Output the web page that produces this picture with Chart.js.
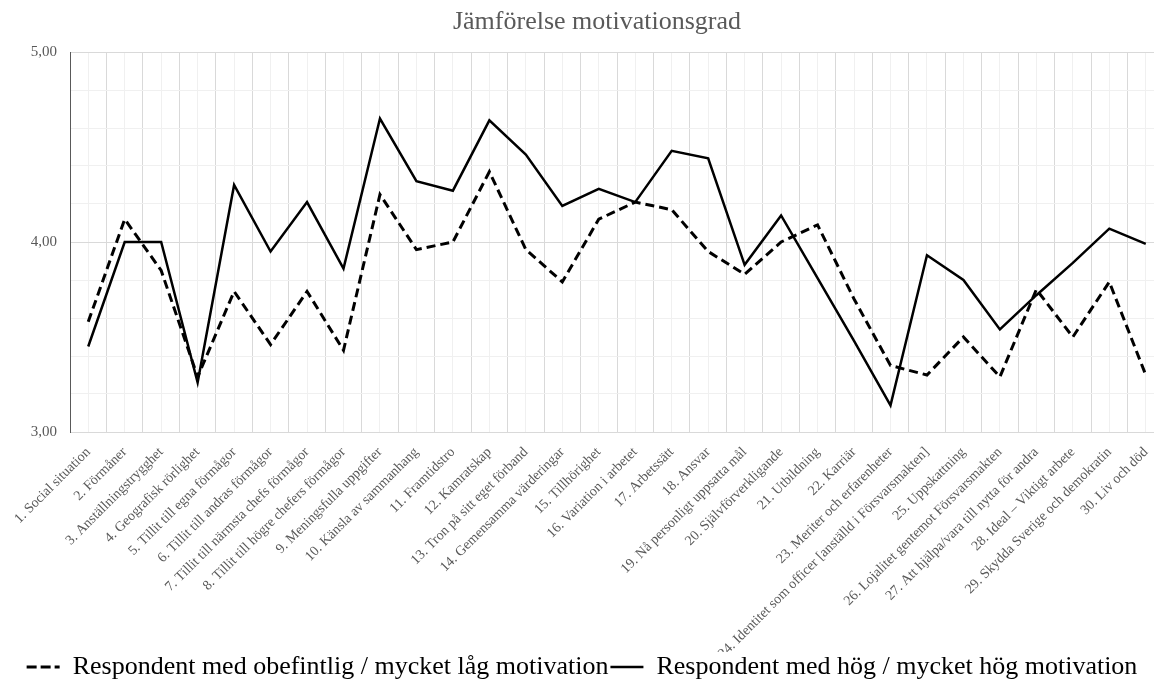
<!DOCTYPE html>
<html>
<head>
<meta charset="utf-8">
<script src="https://cdn.jsdelivr.net/npm/chart.js@4.4.1/dist/chart.umd.min.js"></script>
<style>
  html, body { margin: 0; padding: 0; overflow: hidden; background: #ffffff; }
  canvas { display: block; }
</style>
</head>
<body>
<canvas id="chart" width="1194" height="690"></canvas>
<script>
// Motivationsfaktorer (kategorier på x-axeln)
const categories = [
  '1. Social situation',
  '2. Förmåner',
  '3. Anställningstrygghet',
  '4. Geografisk rörlighet',
  '5. Tillit till egna förmågor',
  '6. Tillit till andras förmågor',
  '7. Tillit till närmsta chefs förmågor',
  '8. Tillit till högre chefers förmågor',
  '9. Meningsfulla uppgifter',
  '10. Känsla av sammanhang',
  '11. Framtidstro',
  '12. Kamratskap',
  '13. Tron på sitt eget förband',
  '14. Gemensamma värderingar',
  '15. Tillhörighet',
  '16. Variation i arbetet',
  '17. Arbetssätt',
  '18. Ansvar',
  '19. Nå personligt uppsatta mål',
  '20. Självförverkligande',
  '21. Utbildning',
  '22. Karriär',
  '23. Meriter och erfarenheter',
  '24. Identitet som officer [anställd i Försvarsmakten]',
  '25. Uppskattning',
  '26. Lojalitet gentemot Försvarsmakten',
  '27. Att hjälpa/vara till nytta för andra',
  '28. Ideal – Viktigt arbete',
  '29. Skydda Sverige och demokratin',
  '30. Liv och död'
];

// Medelvärden per grupp
const lowMotivation = [
  3.58, 4.12, 3.85, 3.29, 3.74, 3.46, 3.74, 3.43, 4.25, 3.96,
  4.00, 4.37, 3.96, 3.79, 4.12, 4.21, 4.17, 3.95, 3.83, 4.00,
  4.09, 3.70, 3.35, 3.30, 3.50, 3.29, 3.75, 3.50, 3.79, 3.30
];
const highMotivation = [
  3.45, 4.00, 4.00, 3.26, 4.30, 3.95, 4.21, 3.86, 4.65, 4.32,
  4.27, 4.64, 4.46, 4.19, 4.28, 4.21, 4.48, 4.44, 3.88, 4.14,
  3.81, 3.48, 3.14, 3.93, 3.80, 3.54, 3.72, 3.89, 4.07, 3.99
];

const seriesNames = [
  'Respondent med obefintlig / mycket låg motivation',
  'Respondent med hög / mycket hög motivation'
];
const chartTitle = 'Jämförelse motivationsgrad';

// y-axelns område och steg (huvudlinjer varje 0,5, hjälplinjer varje 0,1)
const yMin = 3;
const yMax = 5;
const yMinorStep = 0.1;
const yMajorStep = 0.5;

const SERIF = '"Liberation Serif", "Times New Roman", serif';
const TEXT_GREY = '#595959';
const MAJOR_GRID = '#d9d9d9';
const MINOR_GRID = '#f0f0f0';

function isMajor(v) {
  const r = v / yMajorStep;
  return Math.abs(r - Math.round(r)) < 1e-6;
}

// Flyttar rubriken något åt höger i förhållande till diagramytan
const titleOffset = {
  id: 'titleOffset',
  afterLayout(chart) {
    const t = chart.titleBlock;
    if (t) { t.left += 15; t.right += 15; }
  }
};

new Chart(document.getElementById('chart'), {
  type: 'line',
  data: {
    labels: categories,
    datasets: [
      {
        label: seriesNames[0],
        data: lowMotivation,
        borderColor: '#000000',
        backgroundColor: 'rgba(0,0,0,0)',
        borderWidth: 3,
        borderDash: [9, 5],
        pointRadius: 0,
        tension: 0
      },
      {
        label: seriesNames[1],
        data: highMotivation,
        borderColor: '#000000',
        backgroundColor: 'rgba(0,0,0,0)',
        borderWidth: 2.5,
        pointRadius: 0,
        tension: 0
      }
    ]
  },
  options: {
    responsive: false,
    animation: false,
    layout: { padding: { left: 0, right: 30, top: 0, bottom: 0 } },
    plugins: {
      title: {
        display: true,
        text: chartTitle,
        color: TEXT_GREY,
        font: { family: SERIF, size: 26, weight: 'normal' },
        padding: { top: 7, bottom: 13.8 }
      },
      legend: {
        position: 'bottom',
        labels: {
          color: '#000000',
          font: { family: SERIF, size: 26 },
          boxWidth: 33,
          boxHeight: 0,
          padding: 2
        }
      },
      tooltip: { enabled: false }
    },
    scales: {
      x: {
        type: 'category',
        offset: true,
        grid: { offset: true, color: MAJOR_GRID, drawTicks: false },
        border: { color: MAJOR_GRID },
        ticks: {
          autoSkip: false,
          maxRotation: 45,
          minRotation: 45,
          color: TEXT_GREY,
          font: { family: SERIF, size: 14 },
          padding: 12
        },
        afterFit(scale) { scale.height = 220; }
      },
      xMinor: {
        type: 'category',
        position: 'bottom',
        offset: true,
        grid: { offset: false, color: MINOR_GRID, drawTicks: false },
        border: { display: false },
        ticks: { display: false },
        afterFit(scale) { scale.height = 0; }
      },
      y: {
        min: yMin,
        max: yMax,
        ticks: {
          stepSize: yMinorStep,
          color: TEXT_GREY,
          font: { family: SERIF, size: 15 },
          padding: 13,
          callback(value) {
            return isMajor(value) ? value.toFixed(2).replace('.', ',') : '';
          }
        },
        grid: {
          drawTicks: false,
          color(ctx) { return isMajor(ctx.tick.value) ? MAJOR_GRID : MINOR_GRID; }
        },
        border: { color: TEXT_GREY },
        afterFit(scale) { scale.width = 70; }
      }
    }
  },
  plugins: [titleOffset]
});
</script>
</body>
</html>
